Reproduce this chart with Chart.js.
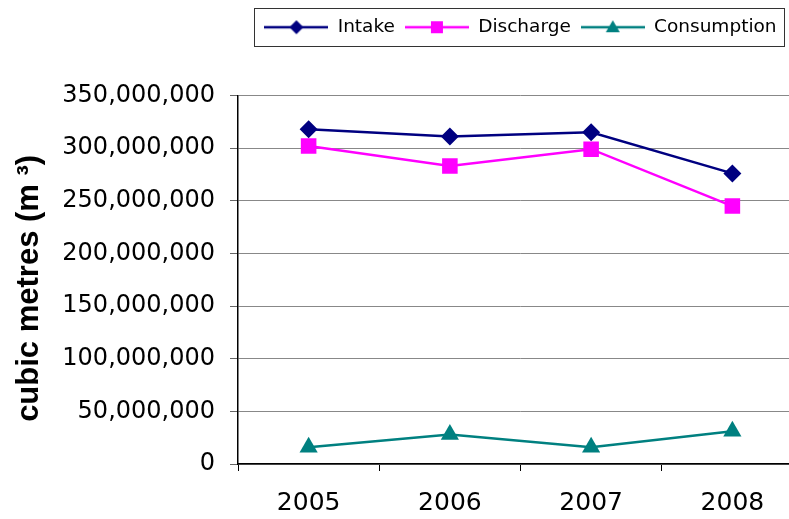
<!DOCTYPE html>
<html>
<head>
<meta charset="utf-8">
<script src="https://cdn.jsdelivr.net/npm/chart.js@4.4.0/dist/chart.umd.min.js"></script>
<style>
  html, body { margin: 0; padding: 0; background: #fff; overflow: hidden; width: 789px; height: 519px; }
  #wrap { width: 814px; height: 519px; }
</style>
</head>
<body>
<div id="wrap"><canvas id="chart" width="814" height="519"></canvas></div>
<script>
// values (cubic metres)
var years = ['2005', '2006', '2007', '2008'];
var intake = [318000000, 311000000, 315000000, 276000000];
var discharge = [302000000, 283000000, 299000000, 245000000];
var consumption = [16000000, 28000000, 16000000, 31000000];

var navy = '#000080', magenta = '#FF00FF', teal = '#008080';

// little line+marker picture for each legend entry
function legendIcon(color, shape) {
  var c = document.createElement('canvas');
  c.width = 64; c.height = 20;
  var g = c.getContext('2d');
  g.strokeStyle = color; g.fillStyle = color; g.lineWidth = 2.5;
  g.beginPath(); g.moveTo(0, 10); g.lineTo(64, 10); g.stroke();
  g.beginPath();
  if (shape === 'diamond') {
    g.moveTo(32, 3); g.lineTo(39, 10); g.lineTo(32, 17); g.lineTo(25, 10);
  } else if (shape === 'square') {
    g.rect(26, 4, 12, 12);
  } else {
    g.moveTo(32, 3); g.lineTo(39, 15); g.lineTo(25, 15);
  }
  g.closePath(); g.fill();
  return c;
}
var icons = [legendIcon(navy, 'diamond'), legendIcon(magenta, 'square'), legendIcon(teal, 'triangle')];

// frame round the legend
var legendFrame = {
  id: 'legendFrame',
  afterDraw: function(chart) {
    var hb = chart.legend && chart.legend.legendHitBoxes;
    if (!hb || !hb.length) return;
    var first = hb[0], last = hb[hb.length - 1];
    var cy = first.top + first.height / 2;
    var ctx = chart.ctx;
    ctx.save();
    ctx.strokeStyle = '#333';
    ctx.lineWidth = 1;
    var x0 = Math.round(first.left - 10) + 0.5;
    var x1 = Math.round(last.left + last.width + 7) + 0.5;
    var y0 = Math.round(cy - 19) + 0.5;
    ctx.strokeRect(x0, y0, x1 - x0, 38);
    ctx.restore();
  }
};

var ctx = document.getElementById('chart').getContext('2d');
var myChart = new Chart(ctx, {
  type: 'line',
  data: {
    labels: years,
    datasets: [
      { label: 'Intake', data: intake, borderColor: navy, backgroundColor: navy,
        borderWidth: 2.5, pointStyle: 'rectRot', pointRadius: 9, pointBorderWidth: 0 },
      { label: 'Discharge', data: discharge, borderColor: magenta, backgroundColor: magenta,
        borderWidth: 2.5, pointStyle: 'rect', pointRadius: 11, pointBorderWidth: 0 },
      { label: 'Consumption', data: consumption, borderColor: teal, backgroundColor: teal,
        borderWidth: 2.5, pointStyle: 'triangle', pointRadius: 10.5, pointBorderWidth: 0 }
    ]
  },
  options: {
    responsive: false,
    animation: false,
    layout: { padding: { top: 8, right: 2, left: 0, bottom: 0 } },
    scales: {
      x: {
        offset: true,
        grid: { offset: true, drawOnChartArea: false, drawTicks: true, tickLength: 7, color: '#000' },
        border: { color: '#000', width: 1.5 },
        ticks: { color: '#000', padding: 17, font: { family: 'DejaVu Sans', size: 25 } },
        afterFit: function(s) { s.height = 55; }
      },
      y: {
        min: 0, max: 350000000,
        grid: { color: '#888', lineWidth: 1, tickLength: 8, tickColor: '#666' },
        border: { color: '#000', width: 1.5 },
        ticks: {
          stepSize: 50000000, color: '#000', padding: 15,
          font: { family: 'DejaVu Sans', size: 24 },
          callback: function(v) { return v.toLocaleString('en-US'); }
        },
        title: {
          display: true, text: 'cubic metres (m ³)  ', color: '#000',
          font: { family: 'Liberation Sans', size: 31, weight: 'bold' },
          padding: { top: 11, bottom: 0 }
        },
        afterFit: function(s) { s.width = 238; }
      }
    },
    plugins: {
      legend: {
        position: 'top',
        fullSize: false,
        labels: {
          usePointStyle: true,
          pointStyleWidth: 64,
          padding: 10,
          color: '#000',
          font: { family: 'DejaVu Sans', size: 18.5 },
          generateLabels: function(chart) {
            return chart.data.datasets.map(function(ds, i) {
              return { text: ds.label, pointStyle: icons[i], fillStyle: ds.borderColor,
                       strokeStyle: ds.borderColor, lineWidth: 0, hidden: false,
                       datasetIndex: i, fontColor: '#000' };
            });
          }
        }
      },
      // empty spacer between legend and plot
      title: { display: true, text: '', weight: 500, font: { size: 1, lineHeight: 1 }, padding: { top: 0, bottom: 48 } },
      tooltip: { enabled: false }
    }
  },
  plugins: [legendFrame]
});
</script>
</body>
</html>
